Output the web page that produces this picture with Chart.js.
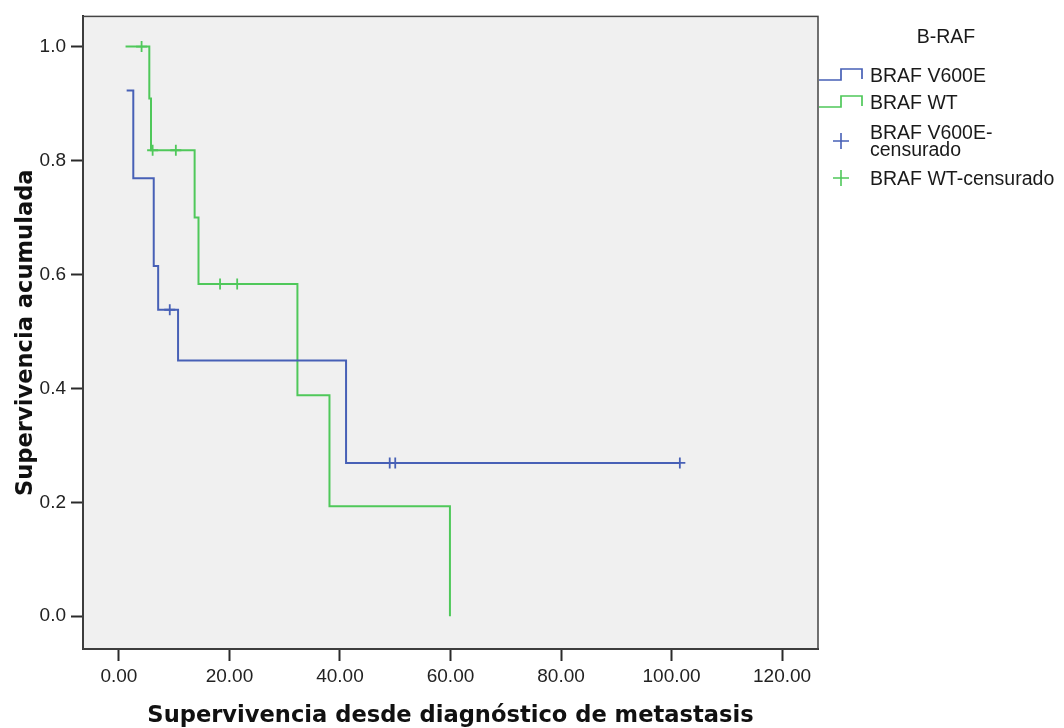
<!DOCTYPE html>
<html>
<head>
<meta charset="utf-8">
<script src="https://cdn.jsdelivr.net/npm/chart.js@4/dist/chart.umd.min.js"></script>
<style>
  html, body { margin: 0; padding: 0; background: #fff; }
  #wrap { width: 1064px; height: 728px; }
</style>
</head>
<body>
<div id="wrap"><canvas id="km" width="1064" height="728"></canvas></div>
<script>
// Kaplan-Meier steps: [time, survival after the event]
const v600eTimes = [1.4, 2.6, 2.6, 6.3, 6.3, 7.1, 10.7, 41.1, 41.1, 101.5];
const v600eSurv  = [0.923, 0.846, 0.769, 0.692, 0.615, 0.538, 0.449, 0.359, 0.269, 0.269];
const wtTimes = [1.2, 5.5, 5.8, 13.7, 14.4, 32.3, 38.1, 59.9];
const wtSurv  = [1.0, 0.909, 0.818, 0.700, 0.583, 0.388, 0.193, 0.0];

// censored cases
const v600eCensTimes = [9.2, 49.0, 50.0, 101.5];
const v600eCensSurv  = [0.538, 0.269, 0.269, 0.269];
const wtCensTimes = [4.1, 6.1, 10.3, 18.3, 21.4];
const wtCensSurv  = [1.0, 0.818, 0.818, 0.583, 0.583];

const xTicks = [0, 20, 40, 60, 80, 100, 120];
const yTicks = [0, 0.2, 0.4, 0.6, 0.8, 1.0];

const legendTitle = 'B-RAF';
const legendItems = ['BRAF V600E', 'BRAF WT', ['BRAF V600E-', 'censurado'], 'BRAF WT-censurado'];

const BLUE = '#4760b6';
const GREEN = '#4fc85a';
const AXIS = '#2a2a2a';
const TICK_FONT = { family: 'Liberation Sans, Arial, sans-serif', size: 19 };
const TITLE_FONT = { family: 'DejaVu Sans, sans-serif', size: 22.6, weight: 'bold' };

const pts = (xs, ys) => xs.map((x, i) => ({ x, y: ys[i] }));

// grey plot area + frame
const frame = {
  id: 'frame',
  beforeDraw(chart) {
    const { ctx, chartArea: a } = chart;
    ctx.save();
    ctx.fillStyle = '#f0f0f0';
    ctx.fillRect(a.left, a.top, a.right - a.left, a.bottom - a.top);
    ctx.restore();
  },
  afterDraw(chart) {
    const { ctx, chartArea: a } = chart;
    ctx.save();
    ctx.strokeStyle = '#444';
    ctx.lineWidth = 1.5;
    ctx.strokeRect(a.left, a.top, a.right - a.left, a.bottom - a.top);
    ctx.restore();
  }
};

// SPSS-like legend on the right
const kmLegend = {
  id: 'kmLegend',
  afterDraw(chart) {
    const ctx = chart.ctx;
    ctx.save();
    ctx.font = '19.5px Liberation Sans, Arial, sans-serif';
    ctx.fillStyle = '#1a1a1a';
    ctx.textBaseline = 'middle';
    ctx.textAlign = 'center';
    ctx.fillText(legendTitle, 946, 38);
    ctx.textAlign = 'left';

    const step = (y, color) => {
      ctx.strokeStyle = color;
      ctx.lineWidth = 1.7;
      ctx.beginPath();
      ctx.moveTo(819, y + 4);
      ctx.lineTo(841, y + 4);
      ctx.lineTo(841, y - 7);
      ctx.lineTo(862, y - 7);
      ctx.lineTo(862, y + 3);
      ctx.stroke();
    };
    const cross = (y, color) => {
      ctx.strokeStyle = color;
      ctx.lineWidth = 1.6;
      ctx.beginPath();
      ctx.moveTo(833, y); ctx.lineTo(849, y);
      ctx.moveTo(841, y - 8); ctx.lineTo(841, y + 8);
      ctx.stroke();
    };

    step(76, BLUE);
    ctx.fillText(legendItems[0], 870, 77);
    step(103, GREEN);
    ctx.fillText(legendItems[1], 870, 104);
    cross(141, BLUE);
    ctx.fillText(legendItems[2][0], 870, 134);
    ctx.fillText(legendItems[2][1], 870, 151);
    cross(178, GREEN);
    ctx.fillText(legendItems[3], 870, 180);
    ctx.restore();
  }
};

const lineSet = (label, data, color) => ({
  label, data, showLine: true, stepped: 'before',
  borderColor: color, borderWidth: 2, pointRadius: 0, fill: false
});
const censSet = (label, data, color) => ({
  label, data, showLine: false, pointStyle: 'cross', pointRadius: 5.5,
  borderColor: color, backgroundColor: color, pointBorderWidth: 1.8
});

new Chart(document.getElementById('km'), {
  type: 'scatter',
  data: {
    datasets: [
      lineSet('BRAF V600E', pts(v600eTimes, v600eSurv), BLUE),
      lineSet('BRAF WT', pts(wtTimes, wtSurv), GREEN),
      censSet('BRAF V600E-censurado', pts(v600eCensTimes, v600eCensSurv), BLUE),
      censSet('BRAF WT-censurado', pts(wtCensTimes, wtCensSurv), GREEN)
    ]
  },
  options: {
    responsive: false,
    animation: false,
    layout: { padding: { top: 13, right: 246, left: 0, bottom: 0 } },
    plugins: { legend: { display: false }, tooltip: { enabled: false } },
    scales: {
      x: {
        type: 'linear',
        min: -6.5, max: 126.5,
        afterBuildTicks: s => { s.ticks = xTicks.map(v => ({ value: v })); },
        afterFit: s => { s.height = 79; },
        ticks: { callback: v => v.toFixed(2), color: '#222', font: TICK_FONT, padding: 4, maxRotation: 0 },
        grid: { drawOnChartArea: false, drawTicks: true, tickLength: 12, color: AXIS, tickWidth: 2 },
        border: { display: true, color: AXIS, width: 2 },
        title: { display: true, text: 'Supervivencia desde diagnóstico de metastasis', color: '#111', font: TITLE_FONT, padding: { top: 0, bottom: -2 } }
      },
      y: {
        min: -0.0576, max: 1.053,
        afterBuildTicks: s => { s.ticks = yTicks.map(v => ({ value: v })); },
        afterFit: s => { s.width = 83; },
        ticks: { callback: v => v.toFixed(1), color: '#222', font: TICK_FONT, padding: 5 },
        grid: { drawOnChartArea: false, drawTicks: true, tickLength: 12, color: AXIS, tickWidth: 2 },
        border: { display: true, color: AXIS, width: 2 },
        title: { display: true, text: 'Supervivencia acumulada', color: '#111', font: TITLE_FONT, padding: { top: 13, bottom: 0 } }
      }
    }
  },
  plugins: [frame, kmLegend]
});
</script>
</body>
</html>
